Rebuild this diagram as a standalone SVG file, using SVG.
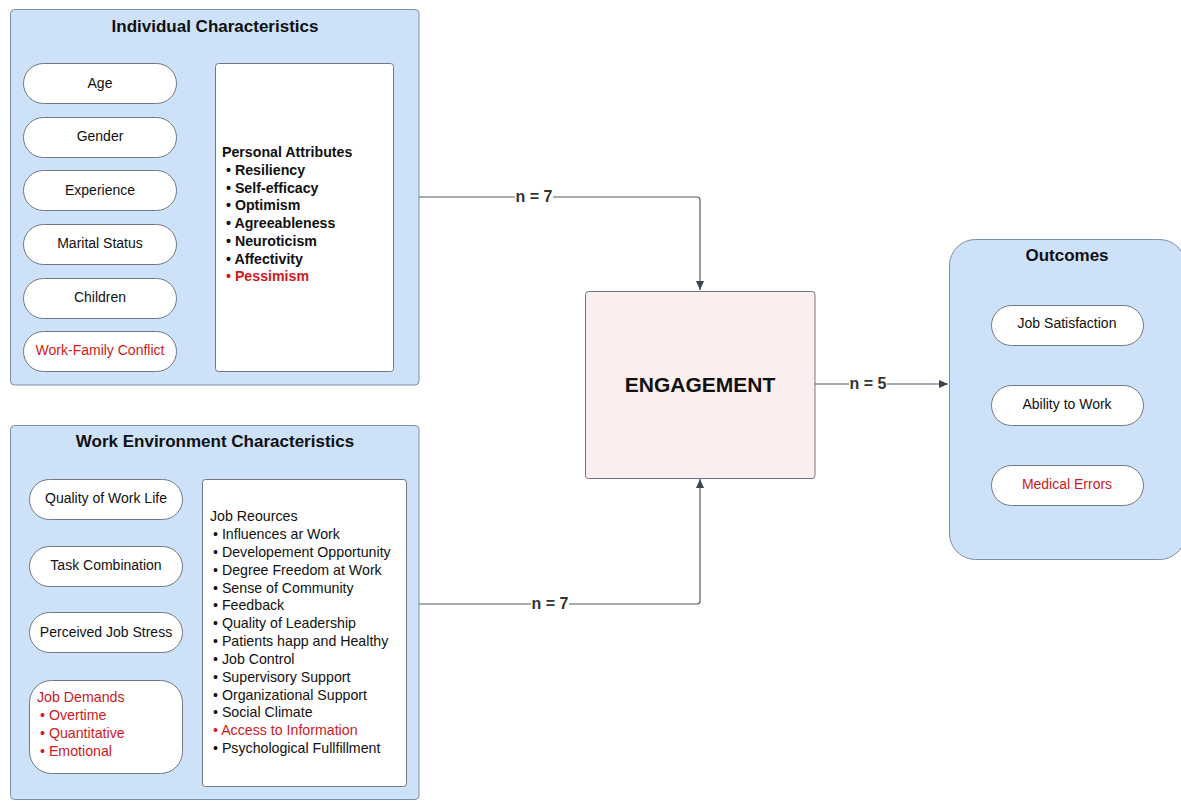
<svg xmlns="http://www.w3.org/2000/svg" width="1181" height="801" viewBox="0 0 1181 801">
  <defs>
    <marker id="arrow" markerWidth="10" markerHeight="10" refX="9" refY="5" orient="auto" markerUnits="userSpaceOnUse">
      <path d="M0,1 L9,5 L0,9 Z" fill="#3d4450"/>
    </marker>
  </defs>
  <style>
    text { font-family: "Liberation Sans", Arial, sans-serif; fill: #111; }
    .group { fill: #cde1f9; stroke: #7d8ea8; stroke-width: 1; }
    .pill { fill: #ffffff; stroke: #6f7783; stroke-width: 1; }
    .panel { fill: #ffffff; stroke: #6f7783; stroke-width: 1; }
    .title { font-size: 17px; font-weight: bold; text-anchor: middle; }
    .label { font-size: 14px; text-anchor: middle; }
    .list { font-size: 14.2px; }
    .bold { font-weight: bold; }
    .red { fill: #d0191b; }
    .edge { fill: none; stroke: #555b66; stroke-width: 1.2; }
    .elabel { font-size: 16px; font-weight: bold; text-anchor: middle; fill: #333; }
  </style>

  <!-- Individual characteristics -->
  <g id="individual">
    <rect class="group" x="10.5" y="9.5" width="408.5" height="375.5" rx="4"/>
    <text class="title" x="215" y="32">Individual Characteristics</text>
    <g id="age"><rect class="pill" x="23.5" y="63.5" width="153" height="40" rx="20"/><text class="label" x="100" y="88">Age</text></g>
    <g id="gender"><rect class="pill" x="23.5" y="117.5" width="153" height="40" rx="20"/><text class="label" x="100" y="141">Gender</text></g>
    <g id="experience"><rect class="pill" x="23.5" y="170.5" width="153" height="40" rx="20"/><text class="label" x="100" y="195">Experience</text></g>
    <g id="marital"><rect class="pill" x="23.5" y="224.5" width="153" height="40" rx="20"/><text class="label" x="100" y="248">Marital Status</text></g>
    <g id="children"><rect class="pill" x="23.5" y="278.5" width="153" height="40" rx="20"/><text class="label" x="100" y="302">Children</text></g>
    <g id="workfamily"><rect class="pill" x="23.5" y="331.5" width="153" height="40" rx="20"/><text class="label red" x="100" y="355">Work-Family Conflict</text></g>
    <g id="personal">
      <rect class="panel" x="215.5" y="63.5" width="178" height="308" rx="3"/>
      <text class="list bold" x="222" y="157">Personal Attributes</text>
      <text class="list bold" x="226" y="175">• Resiliency</text>
      <text class="list bold" x="226" y="193">• Self-efficacy</text>
      <text class="list bold" x="226" y="210">• Optimism</text>
      <text class="list bold" x="226" y="228">• Agreeableness</text>
      <text class="list bold" x="226" y="246">• Neuroticism</text>
      <text class="list bold" x="226" y="264">• Affectivity</text>
      <text class="list bold red" x="226" y="281">• Pessimism</text>
    </g>
  </g>

  <!-- Work environment characteristics -->
  <g id="environment">
    <rect class="group" x="10.5" y="425.5" width="408.5" height="374" rx="4"/>
    <text class="title" x="215" y="447">Work Environment Characteristics</text>
    <g id="qwl"><rect class="pill" x="29.5" y="479.5" width="153" height="40" rx="20"/><text class="label" x="106" y="503">Quality of Work Life</text></g>
    <g id="task"><rect class="pill" x="29.5" y="546.5" width="153" height="40" rx="20"/><text class="label" x="106" y="570">Task Combination</text></g>
    <g id="stress"><rect class="pill" x="29.5" y="612.5" width="153" height="40" rx="20"/><text class="label" x="106" y="637">Perceived Job Stress</text></g>
    <g id="demands">
      <rect class="pill" x="29.5" y="680.5" width="153" height="93" rx="22"/>
      <text class="list red" x="37" y="702">Job Demands</text>
      <text class="list red" x="40" y="720">• Overtime</text>
      <text class="list red" x="40" y="738">• Quantitative</text>
      <text class="list red" x="40" y="756">• Emotional</text>
    </g>
    <g id="resources">
      <rect class="panel" x="202.5" y="479.5" width="204" height="307" rx="3"/>
      <text class="list" x="210" y="521">Job Reources</text>
      <text class="list" x="213" y="539">• Influences ar Work</text>
      <text class="list" x="213" y="557">• Developement Opportunity</text>
      <text class="list" x="213" y="575">• Degree Freedom at Work</text>
      <text class="list" x="213" y="593">• Sense of Community</text>
      <text class="list" x="213" y="610">• Feedback</text>
      <text class="list" x="213" y="628">• Quality of Leadership</text>
      <text class="list" x="213" y="646">• Patients happ and Healthy</text>
      <text class="list" x="213" y="664">• Job Control</text>
      <text class="list" x="213" y="682">• Supervisory Support</text>
      <text class="list" x="213" y="700">• Organizational Support</text>
      <text class="list" x="213" y="717">• Social Climate</text>
      <text class="list red" x="213" y="735">• Access to Information</text>
      <text class="list" x="213" y="753">• Psychological Fullfillment</text>
    </g>
  </g>

  <!-- Engagement -->
  <g id="engagement">
    <rect x="585.5" y="291.5" width="229.5" height="187" rx="3" fill="#fbeeee" stroke="#6f7783" stroke-width="1"/>
    <text x="700" y="392" font-size="21" font-weight="bold" text-anchor="middle">ENGAGEMENT</text>
  </g>

  <!-- Outcomes -->
  <g id="outcomes">
    <rect class="group" x="949.5" y="239.5" width="236" height="320" rx="26"/>
    <text class="title" x="1067" y="261">Outcomes</text>
    <g id="satisfaction"><rect class="pill" x="991.5" y="305.5" width="152" height="40" rx="20"/><text class="label" x="1067" y="328">Job Satisfaction</text></g>
    <g id="ability"><rect class="pill" x="991.5" y="385.5" width="152" height="40" rx="20"/><text class="label" x="1067" y="409">Ability to Work</text></g>
    <g id="errors"><rect class="pill" x="991.5" y="465.5" width="152" height="40" rx="20"/><text class="label red" x="1067" y="489">Medical Errors</text></g>
  </g>

  <!-- Connectors -->
  <g id="connectors">
    <path class="edge" d="M419,197 H697 Q700,197 700,200 V290" marker-end="url(#arrow)"/>
    <path class="edge" d="M419,604 H697 Q700,604 700,601 V479" marker-end="url(#arrow)"/>
    <path class="edge" d="M815,384 H948" marker-end="url(#arrow)"/>
    <rect x="515" y="188" width="38" height="17" fill="#ffffff"/>
    <text class="elabel" x="534" y="202">n = 7</text>
    <rect x="531" y="595" width="38" height="17" fill="#ffffff"/>
    <text class="elabel" x="550" y="609">n = 7</text>
    <rect x="849" y="375" width="38" height="17" fill="#ffffff"/>
    <text class="elabel" x="868" y="389">n = 5</text>
  </g>
</svg>
